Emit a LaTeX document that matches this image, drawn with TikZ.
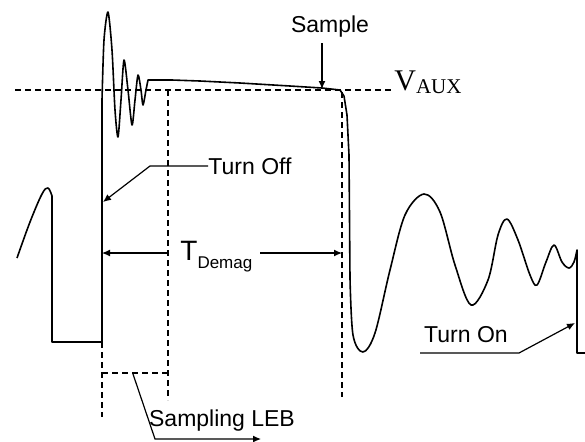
\documentclass[tikz,border=0pt]{standalone}
\usepackage{fontspec}
\setmainfont{Liberation Sans}
\newfontfamily\serifv{Liberation Serif}
\usetikzlibrary{arrows.meta}
\begin{document}
\begin{tikzpicture}[x=0.5pt,y=-0.5pt,
  sig/.style={line width=0.8pt,line join=round},
  guide/.style={line width=0.7pt,dash pattern=on 3pt off 2pt},
  lead/.style={line width=0.6pt},
  tip/.style={-{Latex[length=4pt,width=3.5pt]}},
  lbl/.style={font=\fontsize{11.5}{13}\selectfont,inner sep=0pt}]
\useasboundingbox (0,0) rectangle (585,441);
% guides
\node[inner sep=0pt,anchor=base west] (vaux) at (394,90) {\serifv\fontsize{15}{16}\selectfont V\raisebox{-1.5pt}{\fontsize{10.5}{12}\selectfont AUX}};
\coordinate (g0) at (15,90);
\draw[guide] (g0) -- (vaux.west |- g0);
\coordinate (d1a) at (168,90); \coordinate (d1b) at (168,400);
\draw[guide] (d1a) -- (d1b);
\coordinate (d0a) at (102,342); \coordinate (d0b) at (102,417);
\draw[guide] (d0a) -- (d0b);
\coordinate (b0) at (102,373); \coordinate (b1) at (168,373);
\draw[guide] (b0) -- (b1);
\coordinate (d2a) at (342,92); \coordinate (d2b) at (342,397);
\draw[guide] (d2a) -- (d2b);
% signal
\draw[sig] plot[smooth,tension=0.6] coordinates {(17,258) (30,222) (42,194) (48,188) (52,196)} -- (52,342) -- (102,342) -- (102,100)
  plot[smooth,tension=0.45] coordinates {(102,100) (104,40) (108,12) (112,50) (115,110) (118,137) (121,100) (124,60) (128,90) (132,125) (135,100) (138,75) (141,90) (143,105) (146,90) (148,80)}
  -- (172,80) -- (200,81) -- (240,83) -- (290,86) -- (322,88) -- (340,90) -- (344,96) -- (347,115) -- (349,155) -- (350,278)
  plot[smooth,tension=0.55] coordinates {(350,278) (353,335) (363,352) (375,333) (390,270) (405,215) (424,194) (440,212) (455,265) (471,305) (488,280) (498,235) (507,219) (518,240) (530,275) (537,285) (546,262) (554,245) (562,262) (569,268) (574,262) (577,250)}
  -- (577,353) -- (585,353);
% labels
\node[lbl] (sample) at (330,27) {Sample};
\coordinate (s0) at (322,43); \coordinate (s1) at (322,89);
\draw[lead,tip] (s0) -- (s1);
\node[lbl] (toff) at (250,166) {Turn Off};
\coordinate (t1) at (150,166); \coordinate (t2) at (103,202);
\draw[lead,tip] (toff.west) -- (t1) -- (t2);
\node[inner sep=0pt,anchor=base west] (tdm) at (180,260) {\fontsize{14}{16}\selectfont T\raisebox{-4pt}{\fontsize{8.5}{10}\selectfont Demag}};
\coordinate (a0) at (168,253); \coordinate (a1) at (102,253);
\coordinate (a2) at (260,253); \coordinate (a3) at (342,253);
\draw[lead,tip] (a0) -- (a1);
\draw[lead,tip] (a2) -- (a3);
\node[lbl] (ton) at (466,335) {Turn On};
\coordinate (o0) at (420,353); \coordinate (o1) at (519,353); \coordinate (o2) at (575,323);
\draw[lead,tip] (o0) -- (o1) -- (o2);
\node[lbl] (leb) at (222,421) {Sampling LEB};
\coordinate (l0) at (133,374); \coordinate (l1) at (155,439); \coordinate (l2) at (261,439);
\draw[lead,tip] (l0) -- (l1) -- (l2);
\end{tikzpicture}
\end{document}
